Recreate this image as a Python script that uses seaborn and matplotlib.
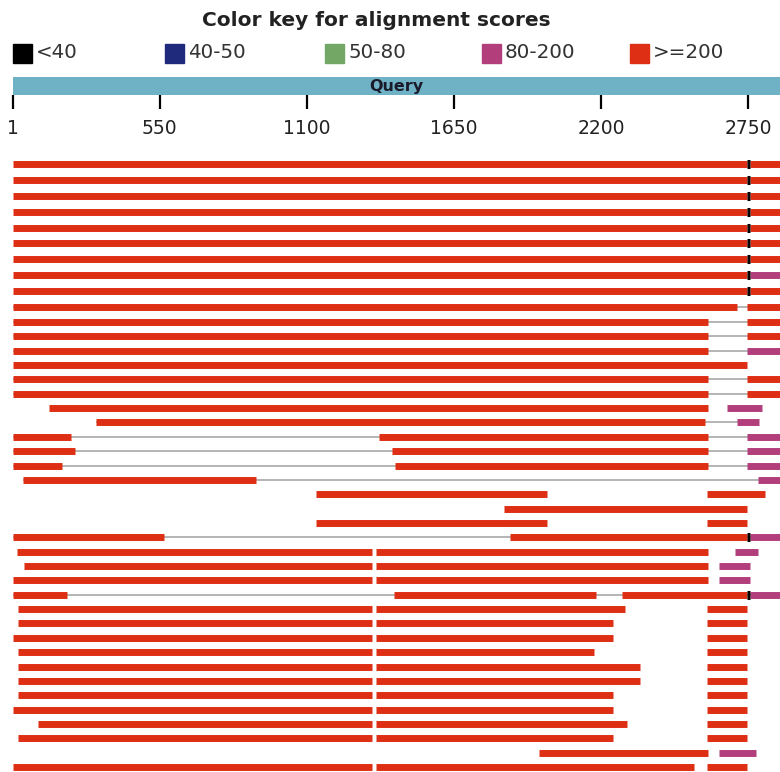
import numpy as np
import pandas as pd
import matplotlib
matplotlib.use("Agg")
import matplotlib.pyplot as plt
from matplotlib.patches import Rectangle
import seaborn as sns

# Colour key for the alignment scores
score_classes = ['<40', '40-50', '50-80', '80-200', '>=200']
score_colors = ['#000000', '#1f2a7c', '#72a766', '#b23f7c', '#de2f14']

# Query ruler (the view is cut off a little past 2750)
query_view = (1, 2870)
ruler_ticks = [1, 550, 1100, 1650, 2200, 2750]

# One list per subject sequence: (query start, query end, score class)
R, P, K = '>=200', '80-200', '<40'
full_red = [(1, 2748, R), (2748, 2756, K), (2756, 2900, R)]
hits = [
    full_red, full_red, full_red, full_red, full_red, full_red, full_red,
    [(1, 2748, R), (2748, 2756, K), (2756, 2900, P)],
    full_red,
    [(1, 2710, R), (2747, 2900, R)],
    [(1, 2601, R), (2747, 2900, R)],
    [(1, 2601, R), (2747, 2900, R)],
    [(1, 2601, R), (2747, 2900, P)],
    [(1, 2747, R)],
    [(1, 2601, R), (2747, 2900, R)],
    [(1, 2601, R), (2747, 2900, R)],
    [(136, 2601, R), (2672, 2803, P)],
    [(312, 2590, R), (2710, 2792, P)],
    [(1, 218, R), (1370, 2601, R), (2747, 2900, P)],
    [(1, 233, R), (1419, 2601, R), (2747, 2900, P)],
    [(1, 184, R), (1430, 2601, R), (2747, 2900, P)],
    [(38, 910, R), (2788, 2900, P)],
    [(1135, 1999, R), (2597, 2814, R)],
    [(1838, 2747, R)],
    [(1135, 1999, R), (2597, 2747, R)],
    [(1, 566, R), (1860, 2748, R), (2748, 2756, K), (2756, 2900, P)],
    [(16, 1344, R), (1359, 2601, R), (2702, 2788, P)],
    [(42, 1344, R), (1359, 2601, R), (2642, 2758, P)],
    [(1, 1344, R), (1359, 2601, R), (2642, 2758, P)],
    [(1, 203, R), (1426, 2182, R), (2279, 2748, R), (2748, 2756, K), (2756, 2900, P)],
    [(20, 1344, R), (1359, 2291, R), (2597, 2747, R)],
    [(20, 1344, R), (1359, 2246, R), (2597, 2747, R)],
    [(1, 1344, R), (1359, 2246, R), (2597, 2747, R)],
    [(20, 1344, R), (1359, 2175, R), (2597, 2747, R)],
    [(20, 1344, R), (1359, 2347, R), (2597, 2747, R)],
    [(20, 1344, R), (1359, 2347, R), (2597, 2747, R)],
    [(20, 1344, R), (1359, 2246, R), (2597, 2747, R)],
    [(1, 1344, R), (1359, 2246, R), (2597, 2747, R)],
    [(95, 1344, R), (1359, 2298, R), (2597, 2747, R)],
    [(20, 1344, R), (1359, 2246, R), (2597, 2747, R)],
    [(1969, 2601, R), (2642, 2781, P)],
    [(1, 1344, R), (1359, 2549, R), (2597, 2747, R)],
]
# subjects whose pieces are joined by a thin grey line
linked_rows = [9, 10, 11, 12, 14, 15, 17, 18, 19, 20, 21, 25, 29]

segs = pd.DataFrame(
    [(i, s, e, c) for i, row in enumerate(hits) for s, e, c in row],
    columns=['row', 'start', 'end', 'score'],
)

sns.set_style('white')
plt.rcParams['font.family'] = ['DejaVu Sans']

W, H = 780, 772
fig = plt.figure(figsize=(W / 100, H / 100), dpi=100)
left = 13 / W

# Title and colour key
fig.text(376 / W, 1 - 20 / H, 'Color key for alignment scores',
         ha='center', va='center', fontsize=14.5, fontweight='bold', color='#222222')
key_x = [13, 165, 325, 482, 630]
for x0, lab, col in zip(key_x, score_classes, score_colors):
    fig.patches.append(Rectangle((x0 / W, 1 - 63 / H), 19 / W, 19 / H,
                                 transform=fig.transFigure, color=col))
    fig.text((x0 + 23) / W, 1 - 53 / H, lab, ha='left', va='center',
             fontsize=14.3, color='#333333')

# Query bar with ruler
axq = fig.add_axes([left, 1 - 95 / H, 1 - left, 18 / H])
axq.set_facecolor('#70b2c5')
axq.set_xlim(*query_view)
axq.set_yticks([])
axq.set_xticks(ruler_ticks)
axq.tick_params(axis='x', length=10, width=1.6, pad=7, labelsize=13.5,
                color='black', labelcolor='#222222', bottom=True)
for sp in axq.spines.values():
    sp.set_visible(False)
axq.text(0.5, 0.5, 'Query', transform=axq.transAxes, ha='center', va='center',
         fontsize=11.5, fontweight='bold', color='#1a1a2a')


def draw_hits(ax):
    for r in linked_rows:
        sub = segs[segs.row == r]
        ax.hlines(r, sub.start.min(), sub.end.max(), color='#a0a0a0', lw=1.1, zorder=1)
    for cls, col in zip(score_classes, score_colors):
        sub = segs[segs.score == cls]
        if sub.empty:
            continue
        ax.hlines(sub.row, sub.start, sub.end, color=col,
                  lw=6.5 if cls == K else 5, zorder=3 if cls == K else 2)
    ax.set_xlim(*query_view)
    ax.axis('off')


# the original image is stretched a bit more in its top rows,
# so the hit list is drawn as two stacked panels (pixel rows of the figure)
n = len(hits)
blocks = [
    # first row, last row, pixel centre of first, pixel centre of last, panel top, panel bottom
    (0, 9, 164, 307, 150, 314.5),
    (10, n - 1, 322, 767, 314.5, H),
]
for r0, r1, y0, y1, top, bot in blocks:
    step = (y1 - y0) / (r1 - r0)
    ax = fig.add_axes([left, 1 - bot / H, 1 - left, (bot - top) / H])
    draw_hits(ax)
    ax.set_ylim(r1 + (bot - y1) / step, r0 - (y0 - top) / step)

fig.savefig('out.png', dpi=100)
